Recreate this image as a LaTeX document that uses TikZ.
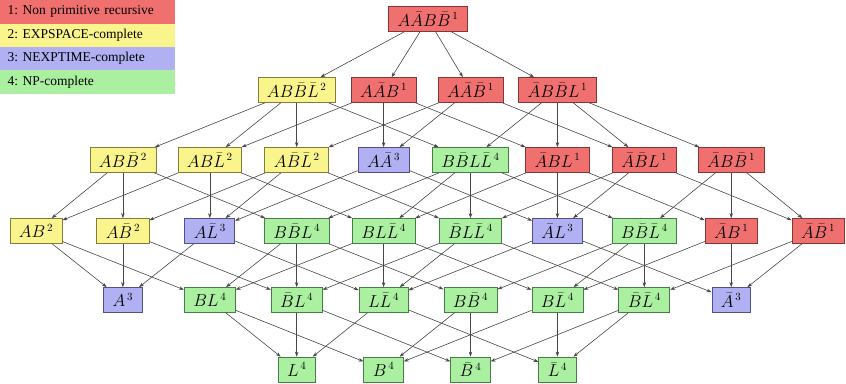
\documentclass[tikz,border=0pt]{standalone}
\usepackage{fontspec}
\newfontfamily\legendfont{Liberation Serif}
\usetikzlibrary{arrows.meta}
\definecolor{npfill}{RGB}{240,112,112}
\definecolor{npdraw}{RGB}{130,55,55}
\definecolor{esfill}{RGB}{250,244,140}
\definecolor{esdraw}{RGB}{130,124,60}
\definecolor{ntfill}{RGB}{176,176,242}
\definecolor{ntdraw}{RGB}{80,80,135}
\definecolor{npcfill}{RGB}{170,240,160}
\definecolor{npcdraw}{RGB}{70,125,70}
\definecolor{edgecol}{RGB}{70,70,70}
\frenchspacing
\tikzset{
  frag/.style={draw, line width=0.7pt, rectangle, minimum height=25pt, inner xsep=9pt,
    inner ysep=0pt, font=\fontsize{16}{19}\selectfont},
  c1/.style={frag, fill=npfill, draw=npdraw},
  c2/.style={frag, fill=esfill, draw=esdraw},
  c3/.style={frag, fill=ntfill, draw=ntdraw},
  c4/.style={frag, fill=npcfill, draw=npcdraw},
  legrow/.style={rectangle, minimum width=175pt, minimum height=23.4pt, inner sep=0pt,
    anchor=north west, text width=160pt, align=left,
    font=\legendfont\fontsize{13.5}{15}\selectfont},
  sub/.style={-{Stealth[length=5pt,width=3.5pt]}, draw=edgecol, line width=0.6pt}
}
\begin{document}
\begin{tikzpicture}[x=1pt,y=-1pt]
\useasboundingbox (0,0) rectangle (846,383);
% legend
\node[legrow, fill=npfill] (l1) at (0,0) {1: Non primitive recursive};
\node[legrow, fill=esfill] (l2) at (0,23.4) {2: EXPSPACE-complete};
\node[legrow, fill=ntfill] (l3) at (0,46.8) {3: NEXPTIME-complete};
\node[legrow, fill=npcfill] (l4) at (0,70.2) {4: NP-complete};
% fragment lattice
\def\cx#1{36+86.9*#1}
% level 0
\node[c1] (AaBb) at (428,19) {$A\bar{A}B\bar{B}^{\,1}$};
% level 1
\node[c2] (ABbLl) at ({\cx{3}},90) {$AB\bar{B}\bar{L}^{\,2}$};
\node[c1] (AaB)   at ({\cx{4}},90) {$A\bar{A}B^{\,1}$};
\node[c1] (AaBb1) at ({\cx{5}},90) {$A\bar{A}\bar{B}^{\,1}$};
\node[c1] (aBbL)  at ({\cx{6}},90) {$\bar{A}B\bar{B}L^{\,1}$};
% level 2
\node[c2] (ABb)   at ({\cx{1}},160) {$AB\bar{B}^{\,2}$};
\node[c2] (ABl)   at ({\cx{2}},160) {$AB\bar{L}^{\,2}$};
\node[c2] (Abl)   at ({\cx{3}},160) {$A\bar{B}\bar{L}^{\,2}$};
\node[c3] (Aa)    at ({\cx{4}},160) {$A\bar{A}^{\,3}$};
\node[c4] (BbLl)  at ({\cx{5}},160) {$B\bar{B}L\bar{L}^{\,4}$};
\node[c1] (aBL)   at ({\cx{6}},160) {$\bar{A}BL^{\,1}$};
\node[c1] (abL)   at ({\cx{7}},160) {$\bar{A}\bar{B}L^{\,1}$};
\node[c1] (aBb)   at ({\cx{8}},160) {$\bar{A}B\bar{B}^{\,1}$};
% level 3
\node[c2] (AB)    at ({\cx{0}},231) {$AB^{\,2}$};
\node[c2] (Ab)    at ({\cx{1}},231) {$A\bar{B}^{\,2}$};
\node[c3] (Al)    at ({\cx{2}},231) {$A\bar{L}^{\,3}$};
\node[c4] (BbL)   at ({\cx{3}},231) {$B\bar{B}L^{\,4}$};
\node[c4] (BLl)   at ({\cx{4}},231) {$BL\bar{L}^{\,4}$};
\node[c4] (bLl)   at ({\cx{5}},231) {$\bar{B}L\bar{L}^{\,4}$};
\node[c3] (aL)    at ({\cx{6}},231) {$\bar{A}L^{\,3}$};
\node[c4] (Bbl)   at ({\cx{7}},231) {$B\bar{B}\bar{L}^{\,4}$};
\node[c1] (aB)    at ({\cx{8}},231) {$\bar{A}B^{\,1}$};
\node[c1] (ab)    at ({\cx{9}},231) {$\bar{A}\bar{B}^{\,1}$};
% level 4
\node[c3] (A)     at ({\cx{1}},300) {$A^{\,3}$};
\node[c4] (BL)    at ({\cx{2}},300) {$BL^{\,4}$};
\node[c4] (bL)    at ({\cx{3}},300) {$\bar{B}L^{\,4}$};
\node[c4] (Ll)    at ({\cx{4}},300) {$L\bar{L}^{\,4}$};
\node[c4] (Bb)    at ({\cx{5}},300) {$B\bar{B}^{\,4}$};
\node[c4] (Bl)    at ({\cx{6}},300) {$B\bar{L}^{\,4}$};
\node[c4] (bl)    at ({\cx{7}},300) {$\bar{B}\bar{L}^{\,4}$};
\node[c3] (a)     at ({\cx{8}},300) {$\bar{A}^{\,3}$};
% level 5
\node[c4] (L)     at ({\cx{3}},369.5) {$L^{\,4}$};
\node[c4] (B)     at ({\cx{4}},369.5) {$B^{\,4}$};
\node[c4] (b)     at ({\cx{5}},369.5) {$\bar{B}^{\,4}$};
\node[c4] (l)     at ({\cx{6}},369.5) {$\bar{L}^{\,4}$};
% sub-fragment relation
\foreach \s/\t in {AaBb/ABbLl, AaBb/AaB, AaBb/AaBb1, AaBb/aBbL,
  ABbLl/ABb, ABbLl/ABl, ABbLl/Abl, ABbLl/BbLl,
  AaB/Aa, AaB/aBL, AaB/ABl,
  AaBb1/Aa, AaBb1/abL, AaBb1/Abl,
  aBbL/aBb, aBbL/BbLl, aBbL/aBL, aBbL/abL,
  ABb/AB, ABb/Ab, ABb/BbL,
  ABl/AB, ABl/Al, ABl/BLl,
  Abl/Ab, Abl/Al, Abl/bLl,
  Aa/Al, Aa/aL,
  BbLl/BbL, BbLl/Bbl, BbLl/BLl, BbLl/bLl,
  aBL/aB, aBL/aL, aBL/BLl,
  abL/ab, abL/aL, abL/bLl,
  aBb/aB, aBb/ab, aBb/Bbl,
  AB/A, AB/BL, Ab/A, Ab/bL, Al/A, Al/Ll,
  BbL/BL, BbL/bL, BbL/Bb,
  BLl/BL, BLl/Ll, BLl/Bl,
  bLl/bL, bLl/Ll, bLl/bl,
  aL/a, aL/Ll,
  Bbl/Bb, Bbl/Bl, Bbl/bl,
  aB/a, aB/Bl, ab/a, ab/bl,
  BL/L, BL/B, bL/L, bL/b, Ll/L, Ll/l,
  Bb/B, Bb/b, Bl/B, Bl/l, bl/b, bl/l}
  \draw[sub] (\s) -- (\t);
\end{tikzpicture}
\end{document}
